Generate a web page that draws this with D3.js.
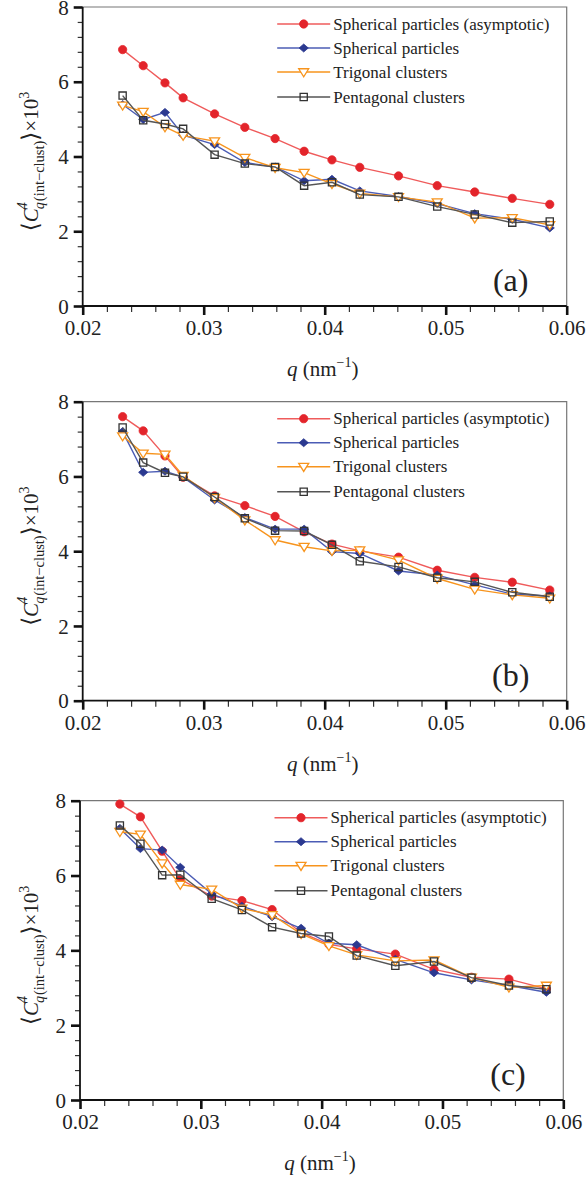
<!DOCTYPE html>
<html><head><meta charset="utf-8">
<script src="https://cdn.jsdelivr.net/npm/d3@7"></script>
<style>
html,body{margin:0;padding:0;background:#fff;}
svg{display:block;}
svg text{font-family:"Liberation Serif","Times New Roman","DejaVu Serif",serif !important;}
</style></head>
<body>
<svg id="chart" width="587" height="1179"></svg>
<script>
// ---- data ----
const qValues = [0.0233, 0.0250, 0.0268, 0.0283, 0.0309, 0.0334, 0.0359, 0.0383, 0.0406, 0.0429, 0.0461, 0.0493, 0.0524, 0.0555, 0.0586];
const seriesNames = ["Spherical particles (asymptotic)", "Spherical particles", "Trigonal clusters", "Pentagonal clusters"];
const panelLabels = ["(a)", "(b)", "(c)"];
const xTicks = [0.02, 0.03, 0.04, 0.05, 0.06];
const xTickLabels = ["0.02", "0.03", "0.04", "0.05", "0.06"];
const yTicks = [0, 2, 4, 6, 8];
const yTickLabels = ["0", "2", "4", "6", "8"];

// panel (a)
const aAsym  = [6.86, 6.43, 5.97, 5.57, 5.14, 4.78, 4.48, 4.14, 3.91, 3.71, 3.48, 3.22, 3.05, 2.88, 2.72];
const aSph   = [5.39, 4.99, 5.18, 4.57, 4.32, 3.84, 3.72, 3.35, 3.39, 3.08, 2.93, 2.74, 2.47, 2.32, 2.09];
const aTri   = [5.37, 5.20, 4.79, 4.56, 4.41, 3.97, 3.70, 3.57, 3.27, 3.01, 2.92, 2.78, 2.35, 2.36, 2.17];
const aPent  = [5.63, 4.97, 4.87, 4.74, 4.05, 3.81, 3.72, 3.22, 3.31, 2.98, 2.92, 2.66, 2.45, 2.23, 2.26];
// panel (b)
const bAsym  = [7.60, 7.22, 6.55, 5.98, 5.48, 5.22, 4.93, 4.52, 4.19, 4.01, 3.84, 3.49, 3.30, 3.17, 2.96];
const bSph   = [7.20, 6.11, 6.14, 5.98, 5.37, 4.90, 4.59, 4.59, 3.99, 3.94, 3.47, 3.36, 3.10, 2.85, 2.80];
const bTri   = [7.08, 6.62, 6.59, 6.02, 5.43, 4.83, 4.30, 4.12, 4.01, 4.03, 3.76, 3.27, 2.98, 2.83, 2.74];
const bPent  = [7.31, 6.37, 6.10, 5.99, 5.45, 4.88, 4.55, 4.54, 4.17, 3.73, 3.58, 3.29, 3.18, 2.90, 2.78];
// panel (c)
const cAsym  = [7.91, 7.57, 6.65, 5.90, 5.45, 5.33, 5.09, 4.47, 4.16, 4.04, 3.90, 3.49, 3.28, 3.23, 2.97];
const cSph   = [7.26, 6.72, 6.68, 6.22, 5.51, 5.18, 4.90, 4.59, 4.19, 4.15, 3.76, 3.40, 3.21, 3.06, 2.88];
const cTri   = [7.17, 7.10, 6.33, 5.76, 5.63, 5.12, 4.95, 4.44, 4.12, 3.88, 3.72, 3.74, 3.28, 3.01, 3.06];
const cPent  = [7.34, 6.85, 6.01, 6.02, 5.38, 5.08, 4.62, 4.45, 4.37, 3.86, 3.59, 3.70, 3.27, 3.06, 2.96];

const panelData = [
  [aAsym, aSph, aTri, aPent],
  [bAsym, bSph, bTri, bPent],
  [cAsym, cSph, cTri, cPent]
];

// ---- styles ----
const styles = [
  {line:"#ef5b5b", stroke:"#e3242b", fill:"#e3242b", sym:"circle"},
  {line:"#4b5cb5", stroke:"#2b3990", fill:"#2b3990", sym:"diamond"},
  {line:"#f7941d", stroke:"#f7941d", fill:"#ffffff", sym:"triDown"},
  {line:"#555555", stroke:"#333333", fill:"none", sym:"square"}
];
function markerPath(st){
  if (st.sym === "triDown") {
    const r = 5;
    return `M${-r},${-r*0.65}L${r},${-r*0.65}L0,${r*0.95}Z`;
  }
  if (st.sym === "diamond") {
    const a = 4.6, b = 4.0;
    return `M0,${-b}L${a},0L0,${b}L${-a},0Z`;
  }
  if (st.sym === "square") {
    const s = 3.6;
    return `M${-s},${-s}H${s}V${s}H${-s}Z`;
  }
  return d3.symbol().type(d3.symbolCircle).size(54)();
}

const panels = [
  {left:82.7, top:7,     w:484, h:299},
  {left:82.7, top:401.7, w:484, h:299},
  {left:80,   top:800.7, w:483.3, h:299.3}
];

const svg = d3.select("#chart");

panels.forEach((p, pi) => {
  const x = d3.scaleLinear().domain([0.02, 0.06]).range([p.left, p.left + p.w]);
  const y = d3.scaleLinear().domain([0, 8]).range([p.top + p.h, p.top]);
  const g = svg.append("g");

  // frame (top & right)
  g.append("path")
    .attr("d", `M${p.left},${p.top}H${p.left+p.w}V${p.top+p.h}`)
    .attr("fill","none").attr("stroke","#777").attr("stroke-width",1.2);

  // minor ticks
  const xMinor = d3.range(0.022, 0.0599, 0.002).filter(v => Math.abs((v*100) - Math.round(v*100)) > 1e-6);
  const yMinor = d3.range(0.4, 7.99, 0.4).filter(v => Math.abs(v/2 - Math.round(v/2)) > 1e-6);

  g.append("g").attr("transform", `translate(0,${p.top + p.h})`)
    .call(d3.axisBottom(x).tickValues(xMinor).tickSize(6).tickFormat(""))
    .call(s => { s.select(".domain").remove(); s.selectAll("line").attr("stroke","#333").attr("stroke-width",1.2); });
  g.append("g").attr("transform", `translate(${p.left},0)`)
    .call(d3.axisLeft(y).tickValues(yMinor).tickSize(5).tickFormat(""))
    .call(s => { s.select(".domain").remove(); s.selectAll("line").attr("stroke","#333").attr("stroke-width",1.2); });

  // major axes
  const xAxis = g.append("g").attr("transform", `translate(0,${p.top + p.h})`)
    .call(d3.axisBottom(x).tickValues(xTicks).tickSize(9).tickPadding(5).tickFormat((d,i) => xTickLabels[i]));
  xAxis.select(".domain").attr("stroke","#111").attr("stroke-width",1.8).attr("d", `M${p.left},0H${p.left+p.w}`);
  xAxis.selectAll("line").attr("stroke","#111").attr("stroke-width",2.6);
  xAxis.selectAll("text").attr("font-size",21).attr("fill","#222");

  const yAxis = g.append("g").attr("transform", `translate(${p.left},0)`)
    .call(d3.axisLeft(y).tickValues(yTicks).tickSize(9).tickPadding(5).tickFormat((d,i) => yTickLabels[i]));
  yAxis.select(".domain").attr("stroke","#111").attr("stroke-width",1.8).attr("d", `M0,${p.top}V${p.top+p.h}`);
  yAxis.selectAll("line").attr("stroke","#111").attr("stroke-width",2.6);
  yAxis.selectAll("text").attr("font-size",21).attr("fill","#222").attr("dy","0.34em");

  // series
  const line = d3.line().x((d,i) => x(qValues[i])).y(d => y(d));
  panelData[pi].forEach((vals, si) => {
    const st = styles[si];
    g.append("path").datum(vals).attr("d", line)
      .attr("fill","none").attr("stroke", st.line).attr("stroke-width",1.4);
    g.selectAll(null).data(vals).enter().append("path")
      .attr("transform", (d,i) => `translate(${x(qValues[i])},${y(d)})`)
      .attr("d", markerPath(st))
      .attr("fill", st.fill).attr("stroke", st.stroke).attr("stroke-width", si >= 2 ? 1.3 : 0.8);
  });

  // legend
  const lg = g.append("g");
  const rows = [17, 41, 65, 90];
  seriesNames.forEach((name, si) => {
    const st = styles[si];
    const ly = p.top + rows[si];
    const lx0 = p.left + 194.5;
    lg.append("line").attr("x1", lx0).attr("x2", lx0 + 53).attr("y1", ly).attr("y2", ly)
      .attr("stroke", st.line).attr("stroke-width",1.4);
    lg.append("path").attr("transform", `translate(${lx0 + 26.5},${ly})`).attr("d", markerPath(st))
      .attr("fill", st.fill).attr("stroke", st.stroke).attr("stroke-width", si >= 2 ? 1.3 : 0.8);
    lg.append("text").attr("x", lx0 + 56).attr("y", ly).attr("dy","0.33em")
      .attr("font-size",17).attr("fill","#222").text(name);
  });

  // panel label
  g.append("text").attr("x", p.left + 428).attr("y", p.top + p.h - 15)
    .attr("text-anchor","middle").attr("font-size",32).attr("fill","#222").text(panelLabels[pi]);

  // x axis label
  const xl = g.append("text").attr("x", p.left + 240).attr("y", p.top + p.h + 70)
    .attr("text-anchor","middle").attr("font-size",21).attr("fill","#222");
  xl.append("tspan").attr("font-style","italic").text("q");
  xl.append("tspan").text(" (nm");
  xl.append("tspan").attr("font-size",14).attr("dy",-9).text("−1");
  xl.append("tspan").attr("dy",9).text(")");

  // y axis label (rotated)
  const yl = g.append("g").attr("transform", `translate(38,${p.top + p.h/2 + 5}) rotate(-90)`);
  const t = yl.append("text").attr("x",0).attr("y",0).attr("text-anchor","middle").attr("fill","#222").attr("font-size",21);
  t.append("tspan").attr("font-size",23).text("⟨");
  t.append("tspan").attr("font-style","italic").text("C");
  t.append("tspan").attr("font-size",14).attr("font-style","italic").attr("dy",-11).attr("dx",-1).text("4");
  t.append("tspan").attr("font-size",14).attr("font-style","italic").attr("dy",17).attr("dx",-7).text("q");
  t.append("tspan").attr("font-size",14.5).attr("dx",1).text("(int−clust)");
  t.append("tspan").attr("font-size",23).attr("dy",-6).text("⟩");
  t.append("tspan").text("×10");
  t.append("tspan").attr("font-size",14).attr("dy",-9).text("3");
});
</script>
</body></html>
